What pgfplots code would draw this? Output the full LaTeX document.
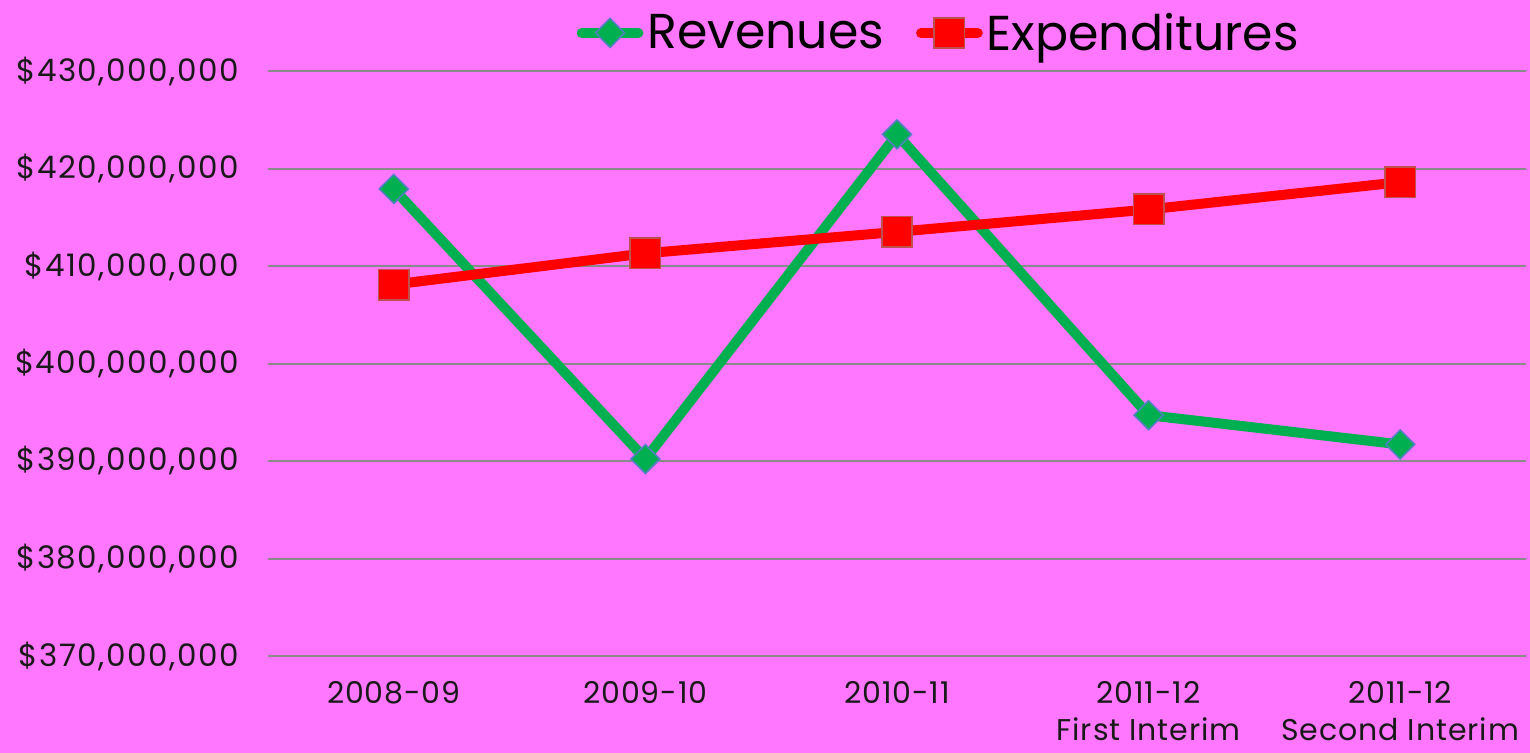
\documentclass[border=0pt]{standalone}
\usepackage{pgfplots}
\pgfplotsset{compat=1.18}
\usepackage{fontspec}
\setmainfont{Poppins}
\newfontfamily\tickfont[LetterSpace=5]{Poppins}
\newfontfamily\xtickfont[LetterSpace=3]{Poppins}
\definecolor{bg}{HTML}{FF77FF}
\definecolor{revg}{HTML}{00B050}
\definecolor{revb}{HTML}{4F81BD}
\definecolor{expr}{HTML}{FF0000}
\definecolor{exprb}{HTML}{C0504D}
\definecolor{gridc}{HTML}{8A8A8A}
\begin{document}
\begin{tikzpicture}
\fill[bg] (-134bp,-48.5bp) rectangle (631bp,328bp);
\begin{axis}[
  scale only axis,
  width=629bp, height=292.5bp,
  xmin=-0.5, xmax=4.5,
  ymin=370000000, ymax=430000000,
  scaled y ticks=false,
  axis line style={draw=none},
  tick style={draw=none},
  ymajorgrids, grid style={gridc, line width=1bp},
  ytick={370000000,380000000,390000000,400000000,410000000,420000000,430000000},
  yticklabels={{\$370,000,000},{\$380,000,000},{\$390,000,000},{\$400,000,000},{\$410,000,000},{\$420,000,000},{\$430,000,000}},
  yticklabel style={font=\tickfont\fontsize{15.5bp}{18bp}\selectfont, anchor=east, xshift=-11bp, text=black!90},
  xtick={0,1,2,3,4},
  xticklabels={{2008-09},{2009-10},{2010-11},{2011-12\\First Interim},{2011-12\\Second Interim}},
  xticklabel style={font=\xtickfont\fontsize{15bp}{18.5bp}\selectfont, align=center, anchor=north, yshift=-9bp, text=black!90},
  legend columns=2,
  legend style={at={(0.534,1.065)}, anchor=center, draw=none, fill=none,
    font=\fontsize{24.5bp}{26bp}\selectfont,
    /tikz/every even column/.append style={column sep=14bp}},
  legend image code/.code={
    \draw[#1, line width=5bp, line cap=round] (0cm,0cm) -- (1cm,0cm);
    \draw[#1, mark repeat=2, mark phase=2] plot coordinates {(0cm,0cm) (0.5cm,0cm) (1cm,0cm)};
  },
  clip=false,
]
\addplot[revg, line width=5bp, mark=square*, mark size=5.1bp,
  mark options={rotate=45, fill=revg, draw=revb, line width=0.8bp}]
  coordinates {(0,417900000) (1,390200000) (2,423500000) (3,394700000) (4,391700000)};
\addlegendentry{Revenues}
\addplot[expr, line width=5bp, mark=square*, mark size=7.6bp,
  mark options={fill=expr, draw=exprb, line width=0.8bp}]
  coordinates {(0,408100000) (1,411300000) (2,413500000) (3,415800000) (4,418600000)};
\addlegendentry{Expenditures}
\end{axis}
\end{tikzpicture}
\end{document}
